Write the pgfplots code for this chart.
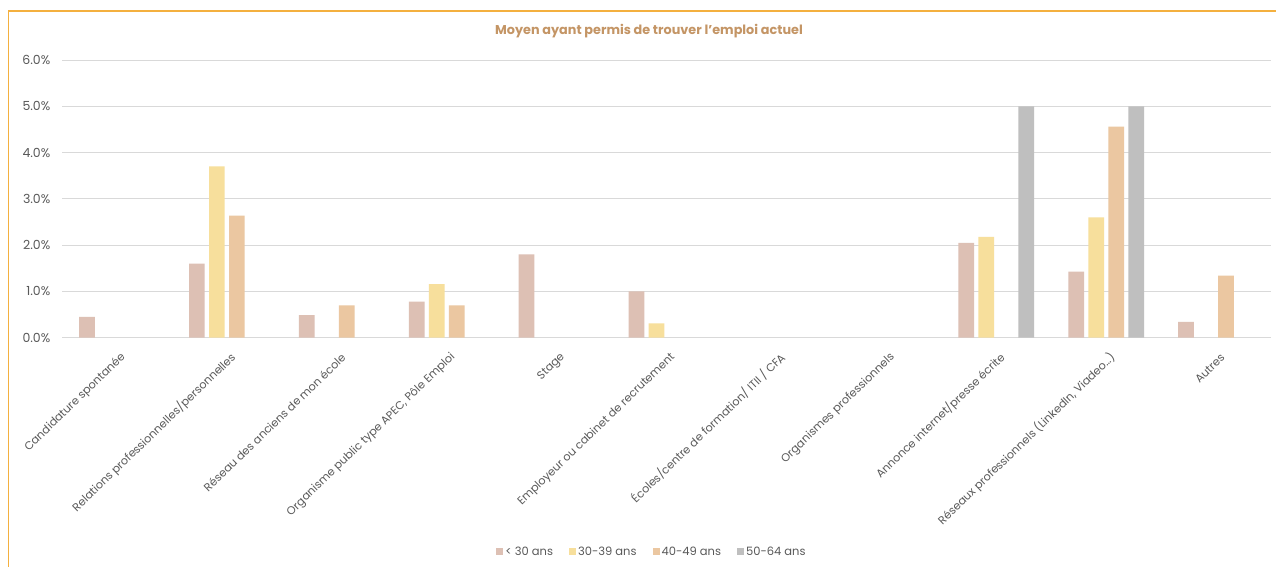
\documentclass[border=0pt]{standalone}
\usepackage{fontspec}
\setmainfont{Poppins}
\usepackage{pgfplots}
\pgfplotsset{compat=1.18}
\definecolor{cA}{RGB}{221,192,180}
\definecolor{cB}{RGB}{247,223,156}
\definecolor{cC}{RGB}{235,199,161}
\definecolor{cD}{RGB}{191,191,191}
\definecolor{titlecol}{RGB}{196,149,101}
\definecolor{bordercol}{RGB}{244,176,63}
\definecolor{gridcol}{RGB}{217,217,217}
\definecolor{labelcol}{RGB}{89,89,89}
\begin{document}
\begin{tikzpicture}[x=1pt,y=1pt]
\useasboundingbox (0,0) rectangle (1276,567);
\fill[white] (0,0) rectangle (1276,567);
\draw[bordercol, line width=1.3pt] (8.5,0) -- (8.5,556) -- (1276,556);
\node[font=\bfseries\fontsize{12.8}{14}\selectfont, text=titlecol] at (649,536) {Moyen ayant permis de trouver l'emploi actuel};
\begin{axis}[
  at={(62pt,229.3pt)}, anchor=south west,
  scale only axis, width=1209pt, height=277.7pt,
  ymin=0, ymax=6, xmin=-0.5, xmax=10.5,
  ybar=4.3pt, bar width=15.7pt,
  axis lines=left,
  x axis line style={-, draw=gridcol, line width=1.2pt},
  y axis line style={draw=none},
  tick style={draw=none},
  ymajorgrids, grid style={gridcol, line width=0.8pt},
  ytick={0,1,2,3,4,5,6},
  yticklabels={0.0\%,1.0\%,2.0\%,3.0\%,4.0\%,5.0\%,6.0\%},
  yticklabel style={font=\fontsize{12.5}{14}\selectfont, text=labelcol, xshift=-6pt},
  xtick={0,1,2,3,4,5,6,7,8,9,10},
  xticklabels={Candidature spontanée, Relations professionnelles/personnelles, Réseau des anciens de mon école, {Organisme public type APEC, Pôle Emploi}, Stage, Employeur ou cabinet de recrutement, {Écoles/centre de formation/ ITII / CFA}, Organismes professionnels, Annonce internet/presse écrite, {Réseaux professionnels (LinkedIn, Viadeo\ldots)}, Autres},
  xticklabel style={rotate=44, anchor=east, font=\fontsize{11.2}{13}\selectfont, text=labelcol, inner sep=1pt, yshift=-16pt, xshift=-5pt},
  legend columns=4,
  legend style={draw=none, fill=none, at={(0.488,-0.771)}, anchor=center, font=\fontsize{11.5}{13}\selectfont, text=labelcol, /tikz/every even column/.append style={column sep=14pt}},
  legend image code/.code={\fill[#1] (0pt,-3.5pt) rectangle (7pt,3.5pt);},
  clip=false,
]
\addplot[fill=cA, draw=none] coordinates {(0,0.45) (1,1.60) (2,0.49) (3,0.78) (4,1.80) (5,1.00) (8,2.05) (9,1.43) (10,0.34)};
\addplot[fill=cB, draw=none] coordinates {(1,3.70) (3,1.16) (5,0.31) (8,2.18) (9,2.60)};
\addplot[fill=cC, draw=none] coordinates {(1,2.64) (2,0.70) (3,0.70) (9,4.56) (10,1.34)};
\addplot[fill=cD, draw=none] coordinates {(8,5.0) (9,5.0)};
\legend{< 30 ans, 30-39 ans, 40-49 ans, 50-64 ans}
\end{axis}
\end{tikzpicture}
\end{document}
